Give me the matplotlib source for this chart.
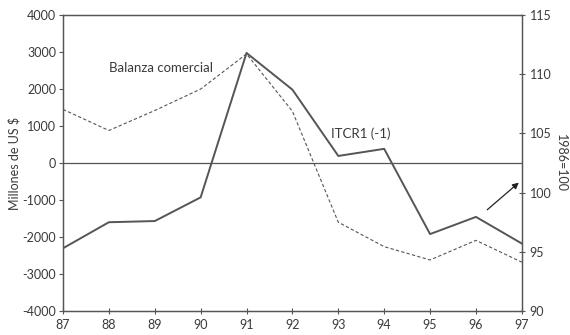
import matplotlib
matplotlib.use("Agg")
import matplotlib.pyplot as plt

plt.rcParams["font.family"] = ["Lato", "DejaVu Sans"]
plt.rcParams["axes.unicode_minus"] = False

YEARS = [87, 88, 89, 90, 91, 92, 93, 94, 95, 96, 97]
# Balanza comercial (millones de US$), eje izquierdo
BALANZA = [1450, 880, 1420, 2000, 2950, 1400, -1600, -2260, -2620, -2090, -2680]
# ITCR1 (-1), 1986=100, eje derecho
ITCR = [95.3, 97.5, 97.6, 99.6, 111.8, 108.7, 103.1, 103.7, 96.5, 97.95, 95.7]

GRAY = "#555555"
TXT = "#3a3a3a"

fig = plt.figure(figsize=(5.7, 3.35), dpi=100)
ax = fig.add_axes([0.1105, 0.0716, 0.805, 0.8834])
ax2 = ax.twinx()

ax.plot(YEARS, BALANZA, color=GRAY, lw=0.8, linestyle=(0, (3, 2)))
ax2.plot(YEARS, ITCR, color=GRAY, lw=1.4)
ax.axhline(0, color=GRAY, lw=0.9)

ax.set_xlim(87, 97)
ax.set_ylim(-4000, 4000)
ax2.set_ylim(90, 115)
ax.set_xticks(YEARS)
ax.set_yticks(range(-4000, 4001, 1000))
ax2.set_yticks(range(90, 116, 5))

for a in (ax, ax2):
    for s in a.spines.values():
        s.set_color(GRAY)
        s.set_linewidth(0.9)
ax.tick_params(axis="y", direction="out", length=3, color=GRAY, labelcolor=TXT,
               labelsize=9, pad=2)
ax.tick_params(axis="x", direction="inout", length=4, color=GRAY, labelcolor=TXT,
               labelsize=9, pad=4)
ax2.tick_params(axis="y", direction="inout", length=5, color=GRAY, labelcolor=TXT,
                labelsize=9, pad=3)

ax.set_ylabel("Millones de US $", color=TXT, fontsize=9, labelpad=1)
ax2.set_ylabel("1986=100", color=TXT, fontsize=9, rotation=270, labelpad=11)

ax.text(88.0, 2570, "Balanza comercial", color=TXT, fontsize=9.5, va="center")
ax2.text(92.85, 105.0, "ITCR1 (-1)", color=TXT, fontsize=9.5, va="center")
ax2.annotate("", xy=(96.98, 101.0), xytext=(96.2, 98.4),
             arrowprops=dict(arrowstyle="-|>", color="#222222", lw=0.9,
                             mutation_scale=9))

fig.savefig("out.png", dpi=100, facecolor="white")
